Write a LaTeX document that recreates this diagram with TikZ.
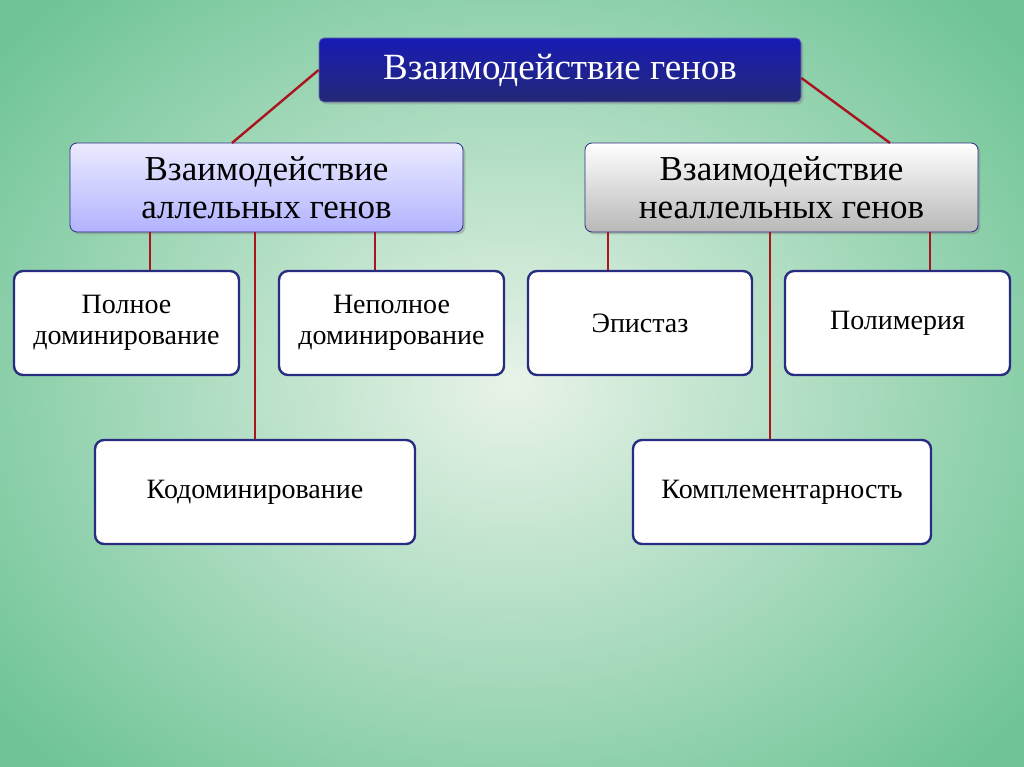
\documentclass[tikz,border=0pt]{standalone}
\usepackage{fontspec}
\setmainfont{Liberation Serif}
\usetikzlibrary{shadows}
\definecolor{bgout}{RGB}{110,196,150}
\definecolor{bgin}{RGB}{232,243,232}
\definecolor{linkred}{RGB}{170,20,30}
\definecolor{boxblue}{RGB}{40,45,130}
\tikzset{
  topbox/.style={draw=boxblue!70, rounded corners=5pt, thick, top color=blue!40!boxblue, bottom color=boxblue!90!black, text=white, font=\fontsize{37}{40}\selectfont, drop shadow={opacity=0.4}},
  midbox/.style={draw=boxblue, rounded corners=7pt, thick, align=center, font=\fontsize{35}{38}\selectfont, drop shadow={opacity=0.4}},
  leafbox/.style={draw=boxblue, fill=white, rounded corners=9pt, line width=2.4pt, align=center, font=\fontsize{28}{31}\selectfont},
  link/.style={draw=linkred, line width=2.4pt}
}
\begin{document}
\begin{tikzpicture}[x=1pt,y=-1pt]
  \useasboundingbox (0,0) rectangle (1024,767);
  \begin{scope}
    \clip (0,0) rectangle (1024,767);
    \shade[inner color=bgin, outer color=bgout] (-150,-150) rectangle (1174,917);
  \end{scope}

  \coordinate (lfoot) at (232,143);
  \coordinate (rfoot) at (890,143);

  \node[topbox, minimum width=482pt, minimum height=64pt] (top) at (560,70) {Взаимодействие генов};
  \node[midbox, top color=blue!8, bottom color=blue!30, minimum width=393pt, minimum height=89pt] (allel) at (266.5,187.5) {Взаимодействие\\аллельных генов};
  \node[midbox, top color=white, bottom color=black!28, minimum width=393pt, minimum height=89pt] (nonallel) at (781.5,187.5) {Взаимодействие\\неаллельных генов};

  \node[leafbox, minimum width=225pt, minimum height=104pt] (full) at (126.5,323) {Полное\\доминирование};
  \node[leafbox, minimum width=225pt, minimum height=104pt] (partial) at (391.5,323) {Неполное\\доминирование};
  \node[leafbox, minimum width=320pt, minimum height=104pt] (codom) at (255,492) {Кодоминирование};
  \node[leafbox, minimum width=224pt, minimum height=104pt] (epist) at (640,323) {Эпистаз};
  \node[leafbox, minimum width=225pt, minimum height=104pt] (polym) at (897.5,323) {Полимерия};
  \node[leafbox, minimum width=298pt, minimum height=104pt] (compl) at (782,492) {Комплементарность};

  \draw[link] (top.west) -- (lfoot);
  \draw[link] ([yshift=-8pt]top.east) -- (rfoot);
  \draw[link] (allel.south -| 150,0) -- (full.north -| 150,0);
  \draw[link] (allel.south -| 375,0) -- (partial.north -| 375,0);
  \draw[link] (allel.south -| codom.north) -- (codom.north);
  \draw[link] (nonallel.south -| 608,0) -- (epist.north -| 608,0);
  \draw[link] (nonallel.south -| 930,0) -- (polym.north -| 930,0);
  \draw[link] (nonallel.south -| 770,0) -- (compl.north -| 770,0);
\end{tikzpicture}
\end{document}
